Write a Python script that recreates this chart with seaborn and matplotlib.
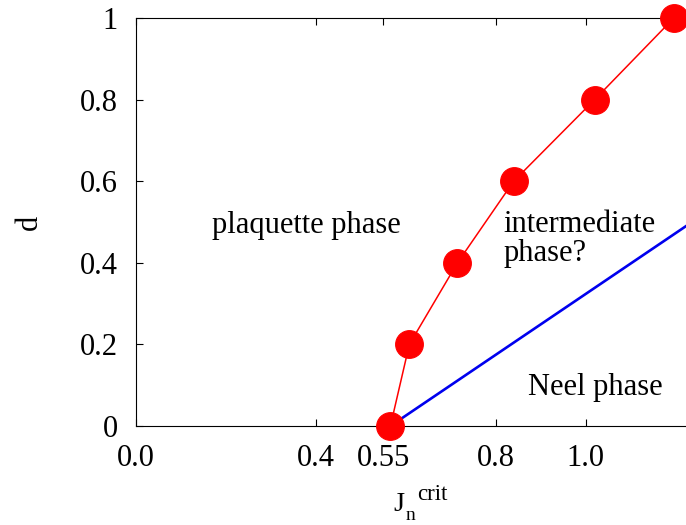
import numpy as np
import pandas as pd
import matplotlib
matplotlib.use('Agg')
import matplotlib.pyplot as plt
import seaborn as sns

# phase boundary points (red) and Neel boundary (blue)
d_vals = [0.0, 0.2, 0.4, 0.6, 0.8, 1.0]
jn_crit = [0.566, 0.608, 0.715, 0.840, 1.020, 1.196]
neel_x = [0.566, 1.25]
neel_y = [0.0, 0.51]

x_ticks = [0.0, 0.4, 0.55, 0.8, 1.0]
x_ticklabels = ['0.0', '0.4', '0.55', '0.8', '1.0']
y_ticks = [0, 0.2, 0.4, 0.6, 0.8, 1.0]
y_ticklabels = ['0', '0.2', '0.4', '0.6', '0.8', '1']

sns.set_style('ticks')
plt.rcParams['font.family'] = ['Liberation Serif', 'DejaVu Serif']
for k in ['text.color', 'axes.labelcolor', 'xtick.color', 'ytick.color', 'axes.edgecolor']:
    plt.rcParams[k] = 'black'

fs = 22

fig = plt.figure(figsize=(6.86, 5.25), dpi=100)
ax = fig.add_axes([0.198, 0.1886, 0.802, 0.7771])

sns.lineplot(x=neel_x, y=neel_y, color='#0000ee', linewidth=1.9, ax=ax,
             sort=False, estimator=None, zorder=2)
sns.lineplot(x=jn_crit, y=d_vals, color='red', linewidth=1.1, marker='o',
             markersize=20, markeredgecolor='red', markerfacecolor='red',
             sort=False, estimator=None, ax=ax, zorder=3, clip_on=False)

ax.set_xlim(0, 1.223)
ax.set_ylim(0, 1.0)
ax.set_xticks(x_ticks)
ax.set_xticklabels(x_ticklabels)
ax.set_yticks(y_ticks)
ax.set_yticklabels(y_ticklabels)
ax.tick_params(axis='x', direction='in', top=True, bottom=True, length=5,
               width=0.8, pad=13, labelsize=fs)
ax.tick_params(axis='y', direction='in', left=True, right=False, length=5,
               width=0.8, pad=13, labelsize=fs)

for s in ['left', 'bottom', 'top']:
    ax.spines[s].set_visible(True)
    ax.spines[s].set_linewidth(0.8)
ax.spines['right'].set_visible(False)

ax.set_ylabel('d', fontsize=fs)
ax.yaxis.set_label_coords(-0.168, 0.5)

# x label J_n^crit built from pieces
ax.text(0.468, -0.209, 'J', fontsize=20.5, transform=ax.transAxes, va='baseline')
ax.text(0.490, -0.230, 'n', fontsize=14, transform=ax.transAxes, va='baseline')
ax.text(0.512, -0.181, 'crit', fontsize=16.5, transform=ax.transAxes, va='baseline')

ax.text(0.169, 0.473, 'plaquette phase', fontsize=fs, va='baseline')
ax.text(0.817, 0.475, 'intermediate', fontsize=fs, va='baseline')
ax.text(0.817, 0.404, 'phase?', fontsize=fs, va='baseline')
ax.text(0.871, 0.076, 'Neel phase', fontsize=fs, va='baseline')

fig.savefig('out.png', dpi=100)
